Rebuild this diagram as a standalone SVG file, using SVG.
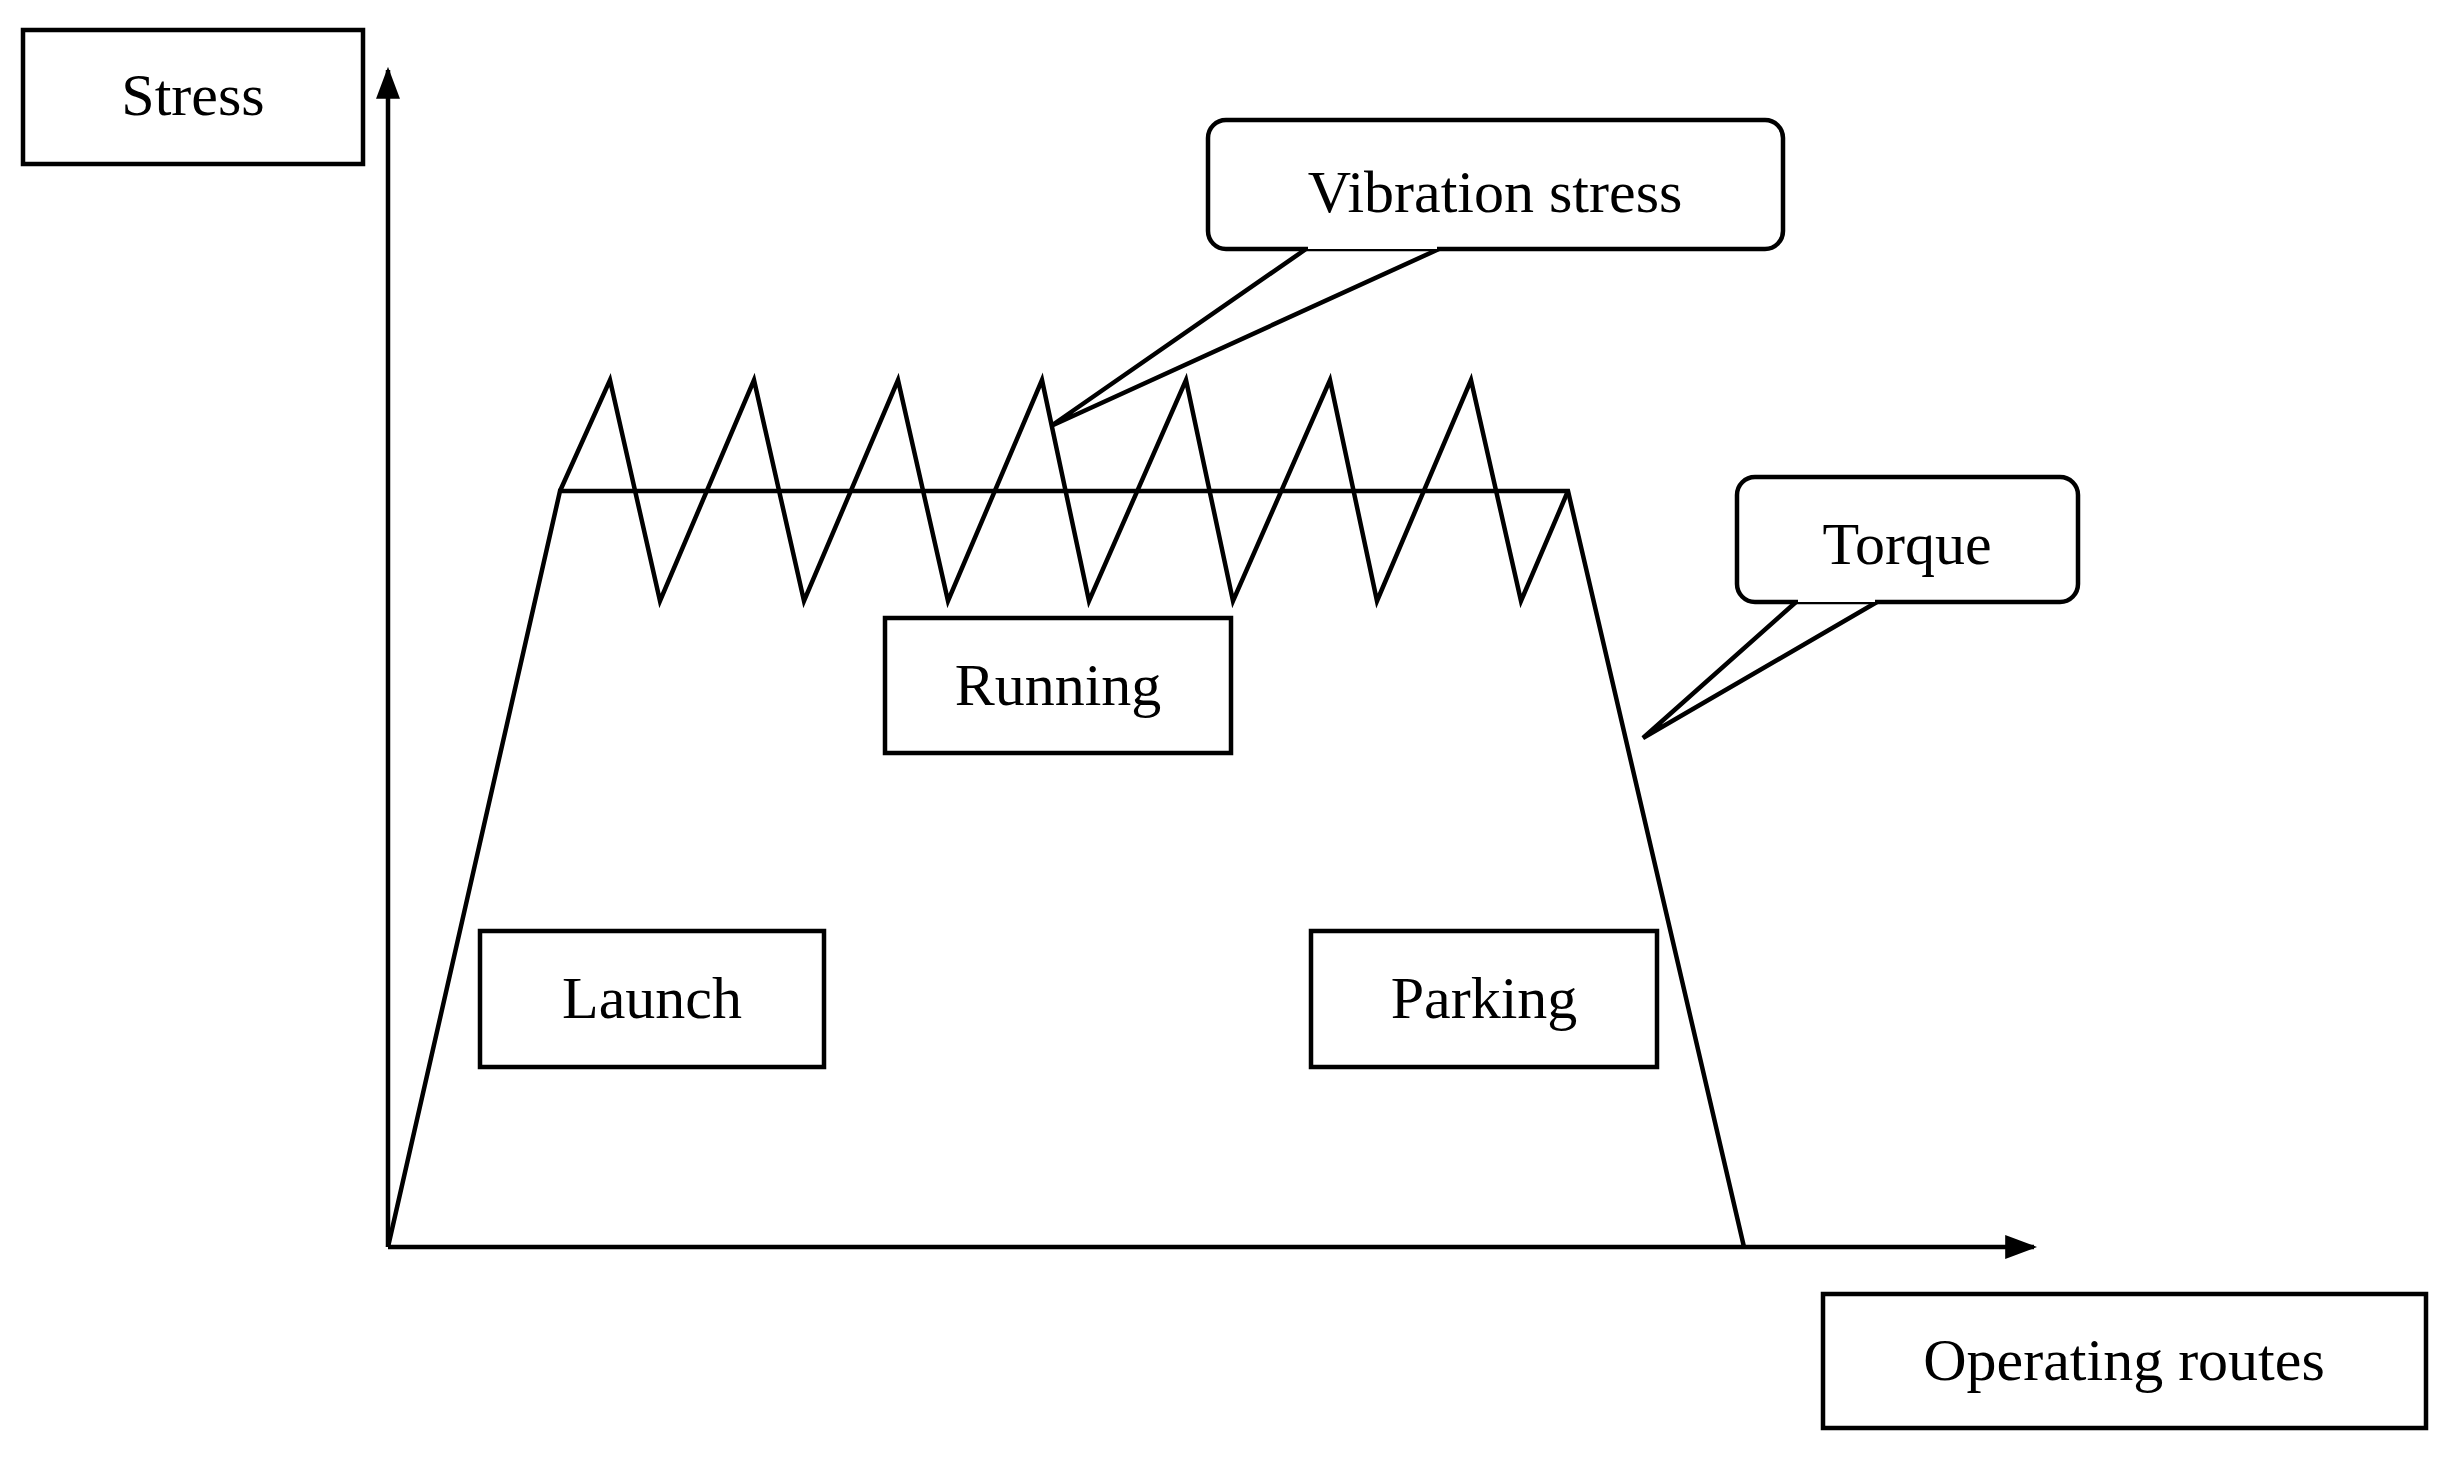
<svg xmlns="http://www.w3.org/2000/svg" width="2453" height="1458" viewBox="0 0 2453 1458">
<style>
.b{fill:#fff;stroke:#000;stroke-width:4.5}
.l{fill:none;stroke:#000;stroke-width:4.5;stroke-linejoin:miter}
text{font-family:"Liberation Serif",serif;font-size:60px;text-anchor:middle;fill:#000}
</style>
<defs><marker id="a" markerWidth="10" markerHeight="10" refX="9" refY="5" orient="auto" markerUnits="userSpaceOnUse" viewBox="0 0 10 10"><path d="M0,0L10,5L0,10z"/></marker>
<marker id="ar" viewBox="0 0 10 10" refX="9" refY="5" markerWidth="32" markerHeight="24" orient="auto" markerUnits="userSpaceOnUse" preserveAspectRatio="none"><path d="M0,0L10,5L0,10z"/></marker></defs>
<rect width="2453" height="1458" fill="#fff"/>
<g id="connectors">
<line class="l" x1="388" y1="1247" x2="388" y2="70" marker-end="url(#ar)"/>
<line class="l" x1="388" y1="1247" x2="2034" y2="1247" marker-end="url(#ar)"/>
<polyline class="l" points="388,1247 560,491 1568,491 1744,1247"/>
<polyline class="l" points="560,491 610,380 660,601 754,380 804,601 898,380 948,601 1042,380 1089,601 1186,380 1233,601 1330,380 1377,601 1471,380 1521,601 1568,491"/>
</g>
<g id="stress"><rect class="b" x="23" y="30" width="340" height="134"/><text x="193" y="115">Stress</text></g>
<g id="routes"><rect class="b" x="1823" y="1294" width="603" height="134"/><text x="2124" y="1380">Operating routes</text></g>
<g id="vibration"><path class="b" d="M1306,249L1051,426L1439,249"/><rect class="b" x="1208" y="120" width="575" height="129" rx="18"/><path d="M1308,247L1437,247" stroke="#fff" stroke-width="4"/><text x="1495" y="212">Vibration stress</text></g>
<g id="torque"><path class="b" d="M1796,602L1643,738L1877,602"/><rect class="b" x="1737" y="477" width="341" height="125" rx="18"/><path d="M1798,600L1875,600" stroke="#fff" stroke-width="4"/><text x="1907" y="564">Torque</text></g>
<g id="running"><rect class="b" x="885" y="618" width="346" height="135"/><text x="1058" y="705">Running</text></g>
<g id="launch"><rect class="b" x="480" y="931" width="344" height="136"/><text x="652" y="1018">Launch</text></g>
<g id="parking"><rect class="b" x="1311" y="931" width="346" height="136"/><text x="1484" y="1018">Parking</text></g>
</svg>
